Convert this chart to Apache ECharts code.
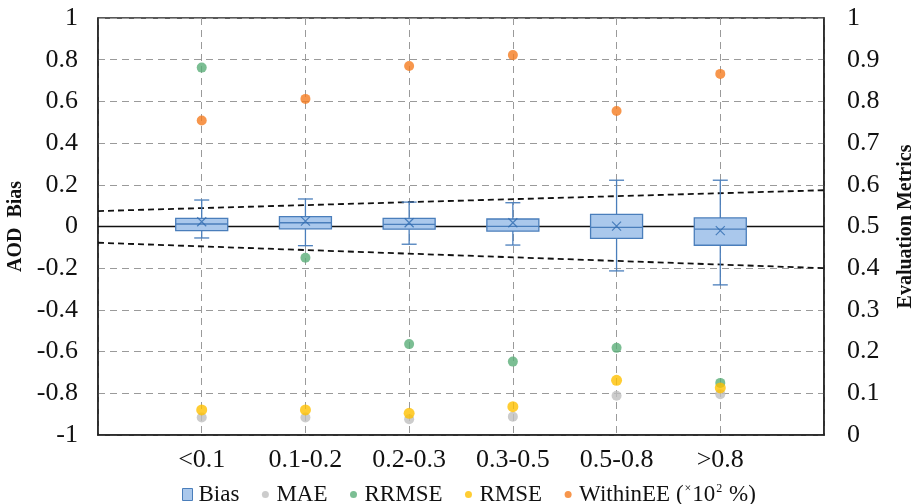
<!DOCTYPE html>
<html>
<head>
<meta charset="utf-8">
<script src="https://cdn.jsdelivr.net/npm/echarts@6/dist/echarts.min.js"></script>
<style>
  html, body { margin: 0; padding: 0; background: #fff; }
  #chart { width: 917px; height: 504px; }
</style>
</head>
<body>
<div id="chart"></div>
<script>
const categories = ['<0.1', '0.1-0.2', '0.2-0.3', '0.3-0.5', '0.5-0.8', '>0.8']
// AOD bias box stats (left axis)
const biasMin = [-0.055, -0.092, -0.085, -0.089, -0.213, -0.28]
const biasQ1 = [-0.02, -0.011, -0.013, -0.022, -0.057, -0.09]
const biasMedian = [0.012, 0.018, 0.01, 0.001, -0.004, -0.013]
const biasQ3 = [0.039, 0.047, 0.039, 0.036, 0.058, 0.041]
const biasMax = [0.127, 0.132, 0.117, 0.114, 0.222, 0.222]
const biasMean = [0.023, 0.026, 0.018, 0.018, 0.002, -0.02]
// evaluation metrics (right axis)
const mae = [0.042, 0.042, 0.038, 0.044, 0.094, 0.098]
const rrmse = [0.881, 0.425, 0.218, 0.176, 0.209, 0.125]
const rmse = [0.06, 0.06, 0.052, 0.068, 0.131, 0.113]
const withinEE = [0.754, 0.806, 0.885, 0.911, 0.777, 0.866]
// expected error envelope, value at left and right edge of the plot
const eeUpper = [0.074, 0.174]
const eeLower = [-0.078, -0.2]

const FONT = 'Liberation Serif'
const axisData = ['', ...categories, '']
const pts = arr => arr.map((v, i) => [i + 1, v])
const edgeLine = ends => axisData.map((c, i) => i === 0 ? ends[0] : (i === axisData.length - 1 ? ends[1] : null))

const boxData = categories.map((c, i) => [i + 1, biasMin[i], biasQ1[i], biasMedian[i], biasQ3[i], biasMax[i]])

function renderBox (params, api) {
  const x = api.value(0)
  const pMin = api.coord([x, api.value(1)])
  const pQ1 = api.coord([x, api.value(2)])
  const pMed = api.coord([x, api.value(3)])
  const pQ3 = api.coord([x, api.value(4)])
  const pMax = api.coord([x, api.value(5)])
  const cx = pMin[0]
  const half = 26
  const cap = 7.5
  const line = { stroke: '#4a7ebb', lineWidth: 1.3 }
  return {
    type: 'group',
    children: [
      { type: 'line', shape: { x1: cx, y1: pMax[1], x2: cx, y2: pQ3[1] }, style: line },
      { type: 'line', shape: { x1: cx, y1: pQ1[1], x2: cx, y2: pMin[1] }, style: line },
      { type: 'line', shape: { x1: cx - cap, y1: pMax[1], x2: cx + cap, y2: pMax[1] }, style: line },
      { type: 'line', shape: { x1: cx - cap, y1: pMin[1], x2: cx + cap, y2: pMin[1] }, style: line },
      { type: 'rect', shape: { x: cx - half, y: pQ3[1], width: half * 2, height: pQ1[1] - pQ3[1] }, style: { fill: '#aac8ec', stroke: '#4a7ebb', lineWidth: 1.3 } },
      { type: 'line', shape: { x1: cx - half, y1: pMed[1], x2: cx + half, y2: pMed[1] }, style: line }
    ]
  }
}

// small dot icon padded inside a 12x12 box
const dotIcon = 'path://M0,0M12,12M6,2.5A3.5,3.5,0,1,1,6,9.5A3.5,3.5,0,1,1,6,2.5Z'
const boxIcon = 'path://M0,0M12,12M1,0H11V12H1Z'

const chart = echarts.init(document.getElementById('chart'))
const option = {
  animation: false,
  textStyle: { fontFamily: FONT },
  grid: {
    left: 98, right: 93, top: 18, bottom: 69,
    outerBoundsMode: 'none',
    show: true, borderColor: '#222', borderWidth: 1.5
  },
  legend: {
    left: 176,
    top: 478,
    itemWidth: 12,
    itemHeight: 12,
    itemGap: 20,
    textStyle: {
      fontFamily: FONT,
      fontSize: 23,
      color: '#111',
      rich: { sup: { fontFamily: FONT, fontSize: 12, color: '#111', verticalAlign: 'top', padding: [0, 1, 0, 1] } }
    },
    formatter: name => name === 'WithinEE' ? 'WithinEE ({sup|×}10{sup|2} %)' : name,
    data: [
      { name: 'Bias', icon: boxIcon, itemStyle: { color: '#aac8ec', borderColor: '#4a7ebb', borderWidth: 1 } },
      { name: 'MAE', icon: dotIcon },
      { name: 'RRMSE', icon: dotIcon },
      { name: 'RMSE', icon: dotIcon },
      { name: 'WithinEE', icon: dotIcon }
    ]
  },
  xAxis: {
    type: 'category',
    data: axisData,
    boundaryGap: false,
    axisLine: { onZero: false, lineStyle: { color: '#222', width: 1.5 } },
    axisTick: { show: false },
    axisLabel: { interval: 0, margin: 12, fontFamily: FONT, fontSize: 26, color: '#111' },
    splitLine: { show: true, interval: 0, lineStyle: { color: '#9a9a9a', type: [7, 5], width: 1 } }
  },
  yAxis: [
    {
      type: 'value',
      min: -1,
      max: 1,
      interval: 0.2,
      name: 'AOD  Bias',
      nameLocation: 'middle',
      nameRotate: 90,
      nameGap: 68,
      nameTextStyle: { fontFamily: FONT, fontSize: 20, fontWeight: 'bold', color: '#111' },
      axisLine: { show: true, lineStyle: { color: '#222', width: 1.5 } },
      axisTick: { show: false },
      axisLabel: { margin: 20, fontFamily: FONT, fontSize: 26, color: '#111' },
      splitLine: { lineStyle: { color: '#9a9a9a', type: [7, 5], width: 1 } }
    },
    {
      type: 'value',
      min: 0,
      max: 1,
      interval: 0.1,
      name: 'Evaluation Metrics',
      nameLocation: 'middle',
      nameRotate: 90,
      nameGap: 72,
      nameTextStyle: { fontFamily: FONT, fontSize: 20, fontWeight: 'bold', color: '#111' },
      axisLine: { show: true, lineStyle: { color: '#222', width: 1.5 } },
      axisTick: { show: false },
      axisLabel: { margin: 23, fontFamily: FONT, fontSize: 26, color: '#111' },
      splitLine: { show: false }
    }
  ],
  series: [
    {
      name: 'zero',
      type: 'line',
      data: axisData.map(() => 0),
      symbol: 'none',
      silent: true,
      lineStyle: { color: '#111', width: 1.6 },
      z: 1
    },
    {
      name: 'eeUpper',
      type: 'line',
      data: edgeLine(eeUpper),
      connectNulls: true,
      symbol: 'none',
      silent: true,
      lineStyle: { color: '#111', width: 1.8, type: [6, 4] },
      z: 1
    },
    {
      name: 'eeLower',
      type: 'line',
      data: edgeLine(eeLower),
      connectNulls: true,
      symbol: 'none',
      silent: true,
      lineStyle: { color: '#111', width: 1.8, type: [6, 4] },
      z: 1
    },
    {
      name: 'Bias',
      type: 'custom',
      renderItem: renderBox,
      data: boxData,
      encode: { x: 0, y: [1, 2, 3, 4, 5] },
      itemStyle: { color: '#aac8ec', borderColor: '#4a7ebb' },
      z: 2
    },
    {
      name: 'mean',
      type: 'scatter',
      data: pts(biasMean),
      symbol: 'path://M0,0L10,10M10,0L0,10',
      symbolSize: 9,
      itemStyle: { color: 'none', borderColor: '#2f6bb0', borderWidth: 1.2 },
      z: 3
    },
    { name: 'MAE', type: 'scatter', yAxisIndex: 1, data: pts(mae), symbolSize: 10, itemStyle: { color: '#bfbfbf' }, z: 4 },
    { name: 'RRMSE', type: 'scatter', yAxisIndex: 1, data: pts(rrmse), symbolSize: 10, itemStyle: { color: '#5aae78' }, z: 4 },
    { name: 'RMSE', type: 'scatter', yAxisIndex: 1, data: pts(rmse), symbolSize: 11, itemStyle: { color: '#ffc000' }, z: 4 },
    { name: 'WithinEE', type: 'scatter', yAxisIndex: 1, data: pts(withinEE), symbolSize: 10, itemStyle: { color: '#f57c1f' }, z: 4 }
  ]
}
chart.setOption(option)
</script>
</body>
</html>
